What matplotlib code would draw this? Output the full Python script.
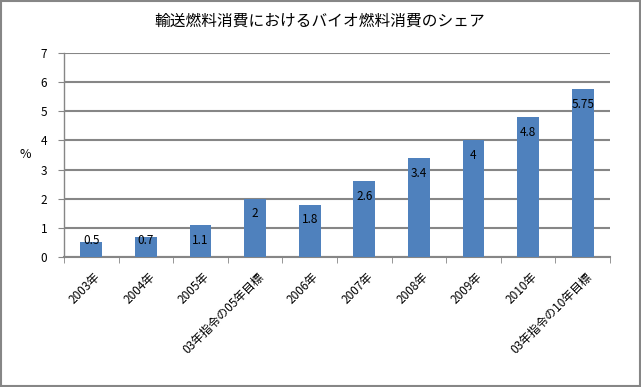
import matplotlib
matplotlib.use("Agg")
import matplotlib.pyplot as plt
import matplotlib.transforms as mtransforms
import numpy as np
from matplotlib.patches import Rectangle

plt.rcParams['font.family'] = ['Noto Sans CJK JP', 'DejaVu Sans']

categories = ["2003年", "2004年", "2005年", "03年指令の05年目標", "2006年",
              "2007年", "2008年", "2009年", "2010年", "03年指令の10年目標"]
values = [0.5, 0.7, 1.1, 2, 1.8, 2.6, 3.4, 4, 4.8, 5.75]
labels = ["0.5", "0.7", "1.1", "2", "1.8", "2.6", "3.4", "4", "4.8", "5.75"]
title = "輸送燃料消費におけるバイオ燃料消費のシェア"

fig = plt.figure(figsize=(6.41, 3.87), dpi=100)
ax = fig.add_axes([64/641, 1-257/387, (610-64)/641, (257-53)/387])

x = np.arange(len(categories))
ax.bar(x, values, width=0.4, color="#4F81BD", zorder=3)
for xi, v, lab in zip(x, values, labels):
    ax.text(xi, max(v - 0.52, 0.55), lab, ha='center', va='center',
            fontsize=8.5, color='black', zorder=4)

ax.set_xlim(-0.5, len(categories) - 0.5)
ax.set_ylim(0, 7)
ax.set_yticks(range(0, 8))
ax.yaxis.grid(True, color='#868686', linewidth=1.5, zorder=0)
ax.set_axisbelow(True)
for s in ['top', 'right']:
    ax.spines[s].set_visible(False)
ax.spines['left'].set_color('#868686')
ax.spines['bottom'].set_color('#868686')
ax.spines['left'].set_linewidth(1.0)
ax.spines['bottom'].set_linewidth(1.5)
ax.tick_params(axis='y', length=4, color='#868686', labelsize=8.5, pad=8)

ax.set_xticks(x)
ax.set_xticklabels(categories, rotation=45, ha='right', va='center',
                   rotation_mode='anchor', fontsize=8.5)
ax.tick_params(axis='x', which='major', length=0, pad=13)
offset = mtransforms.ScaledTranslation(7/100, 0, fig.dpi_scale_trans)
for lab in ax.get_xticklabels():
    lab.set_transform(lab.get_transform() + offset)
ax.set_xticks(np.arange(-0.5, len(categories)), minor=True)
ax.tick_params(axis='x', which='minor', length=4, color='#868686')

fig.text(25/641, 1-155/387, "%", ha='center', va='center', fontsize=9)
fig.text(320/641, 1-21/387, title, ha='center', va='center', fontsize=11.3)

fig.patches.append(Rectangle((0.0015, 0.0025), 0.997, 0.995, transform=fig.transFigure,
                             fill=False, edgecolor='#868686', linewidth=1.5))

fig.savefig("out.png", dpi=100)
